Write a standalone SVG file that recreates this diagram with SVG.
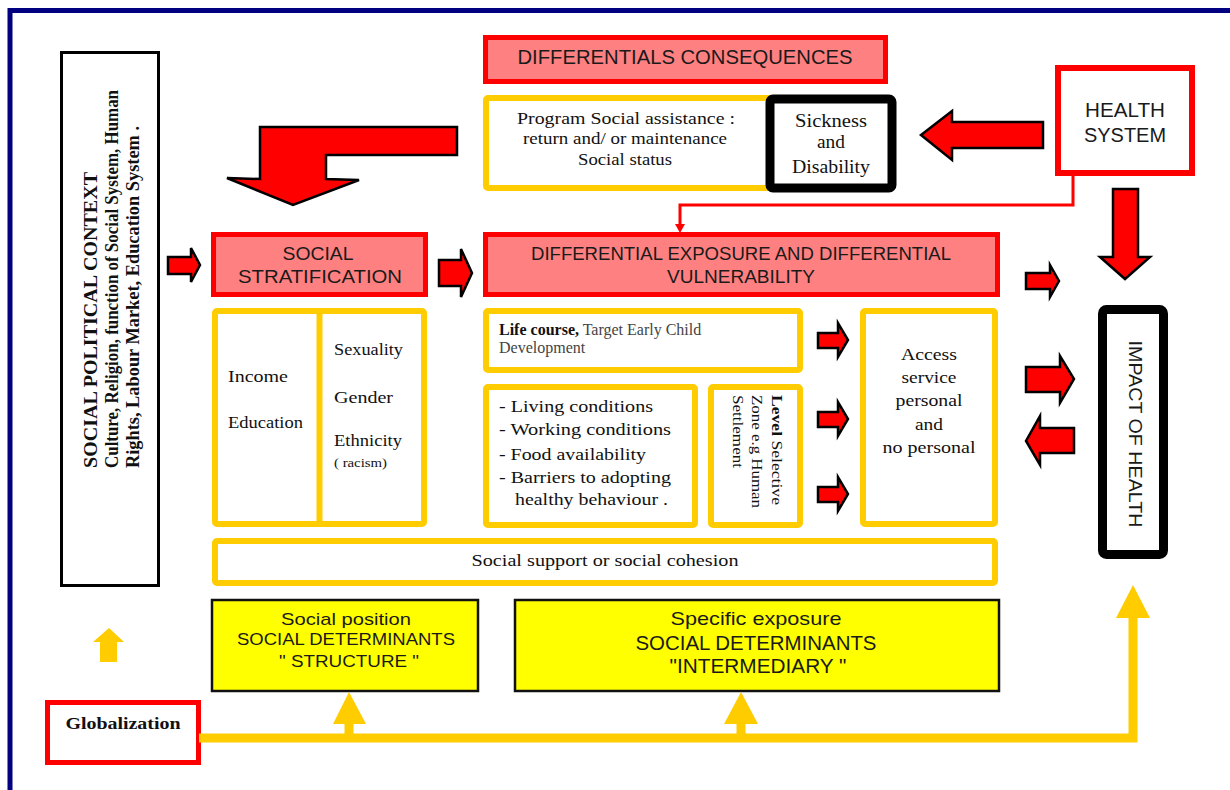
<svg xmlns="http://www.w3.org/2000/svg" width="1230" height="790" viewBox="0 0 1230 790">
<defs>
<style>
.sans{font-family:"Liberation Sans",Arial,sans-serif;fill:#1a1a1a}
.serif{font-family:"Liberation Serif","Times New Roman",serif;fill:#111}
.pink{fill:#ff8080;stroke:#ff0000;stroke-width:5}
.ybox{fill:#fff;stroke:#ffcc00;stroke-width:6}
.yfill{fill:#ffff00;stroke:#111;stroke-width:2.5}
.redarrow{fill:#ff0000;stroke:#000;stroke-width:2.5;stroke-linejoin:miter}
.yline{fill:none;stroke:#ffcc00;stroke-width:9}
.yhead{fill:#ffcc00}
</style>
</defs>
<rect x="0" y="0" width="1230" height="790" fill="#fff"/>
<rect x="10" y="10.5" width="1300" height="900" fill="none" stroke="#000080" stroke-width="5"/>

<g id="context">
<rect x="61.5" y="52.5" width="97" height="533" fill="#fff" stroke="#000" stroke-width="3"/>
<g class="serif" font-weight="bold" font-size="19" lengthAdjust="spacingAndGlyphs">
<text transform="translate(97,468) rotate(-90)" textLength="296" lengthAdjust="spacingAndGlyphs">SOCIAL POLITICAL CONTEXT</text>
<text transform="translate(118,468) rotate(-90)" textLength="378" lengthAdjust="spacingAndGlyphs">Culture, Religion, function of Social System, Human</text>
<text transform="translate(139,468) rotate(-90)" textLength="342" lengthAdjust="spacingAndGlyphs">Rights, Labour Market, Education System .</text>
</g>
</g>

<g id="diff-consequences">
<rect x="485.5" y="37.5" width="400" height="44" class="pink"/>
<text x="685" y="64" class="sans" font-size="20" text-anchor="middle" textLength="335" lengthAdjust="spacingAndGlyphs">DIFFERENTIALS CONSEQUENCES</text>
</g>

<g id="program">
<rect x="486" y="98" width="284" height="90" rx="2" class="ybox"/>
<g class="serif" font-size="17" text-anchor="middle">
<text x="626" y="124" textLength="218" lengthAdjust="spacingAndGlyphs">Program Social assistance  :</text>
<text x="625" y="144" textLength="204" lengthAdjust="spacingAndGlyphs">return and/ or  maintenance</text>
<text x="625" y="165" textLength="94" lengthAdjust="spacingAndGlyphs">Social status</text>
</g>
</g>

<g id="sickness">
<rect x="770" y="99" width="122" height="89" rx="3" fill="#fff" stroke="#000" stroke-width="9"/>
<g class="serif" font-size="18" text-anchor="middle">
<text x="831" y="127" textLength="72" lengthAdjust="spacingAndGlyphs">Sickness</text>
<text x="831" y="148" textLength="28" lengthAdjust="spacingAndGlyphs">and</text>
<text x="831" y="173" textLength="78" lengthAdjust="spacingAndGlyphs">Disability</text>
</g>
</g>

<g id="health-system">
<rect x="1058" y="68" width="134" height="105" fill="#fff" stroke="#ff0000" stroke-width="6"/>
<g class="sans" font-size="20" text-anchor="middle">
<text x="1125" y="117" textLength="80" lengthAdjust="spacingAndGlyphs">HEALTH</text>
<text x="1125" y="142" textLength="82" lengthAdjust="spacingAndGlyphs">SYSTEM</text>
</g>
</g>

<g id="social-stratification">
<rect x="213.5" y="234.5" width="212" height="60" class="pink"/>
<g class="sans" font-size="18" text-anchor="middle">
<text x="318" y="260" textLength="71" lengthAdjust="spacingAndGlyphs">SOCIAL</text>
<text x="320" y="283" textLength="164" lengthAdjust="spacingAndGlyphs">STRATIFICATION</text>
</g>
</g>

<g id="differential-exposure">
<rect x="485.5" y="234.5" width="512" height="60" class="pink"/>
<g class="sans" font-size="18" text-anchor="middle">
<text x="741" y="260" textLength="420" lengthAdjust="spacingAndGlyphs">DIFFERENTIAL EXPOSURE AND DIFFERENTIAL</text>
<text x="741" y="283" textLength="148" lengthAdjust="spacingAndGlyphs">VULNERABILITY</text>
</g>
</g>

<g id="income-gender">
<rect x="215" y="311" width="209" height="213" rx="2" class="ybox"/>
<line x1="319.5" y1="311" x2="319.5" y2="524" stroke="#ffcc00" stroke-width="6"/>
<g class="serif" font-size="17">
<text x="228" y="382" textLength="60" lengthAdjust="spacingAndGlyphs">Income</text>
<text x="228" y="428" textLength="75" lengthAdjust="spacingAndGlyphs">Education</text>
<text x="334" y="355" textLength="69" lengthAdjust="spacingAndGlyphs">Sexuality</text>
<text x="334" y="403" textLength="59" lengthAdjust="spacingAndGlyphs">Gender</text>
<text x="334" y="446" textLength="68" lengthAdjust="spacingAndGlyphs">Ethnicity</text>
<text x="334" y="467" font-size="12" textLength="53" lengthAdjust="spacingAndGlyphs">( racism)</text>
</g>
</g>

<g id="life-course">
<rect x="486" y="311" width="314" height="59" rx="2" class="ybox"/>
<text x="499" y="335" class="serif" font-size="16"><tspan font-weight="bold">Life course,</tspan><tspan fill="#444"> Target Early Child</tspan></text>
<text x="499" y="353" class="serif" font-size="16" fill="#444" style="fill:#444">Development</text>
</g>

<g id="living-conditions">
<rect x="486" y="387" width="209" height="138" rx="2" class="ybox"/>
<g class="serif" font-size="17">
<text x="499" y="412" textLength="154" lengthAdjust="spacingAndGlyphs">- Living conditions</text>
<text x="499" y="435" textLength="172" lengthAdjust="spacingAndGlyphs">- Working conditions</text>
<text x="499" y="460" textLength="147" lengthAdjust="spacingAndGlyphs">- Food availability</text>
<text x="499" y="483" textLength="172" lengthAdjust="spacingAndGlyphs">- Barriers to adopting</text>
<text x="515" y="505" textLength="153" lengthAdjust="spacingAndGlyphs">healthy behaviour .</text>
</g>
</g>

<g id="level-selective">
<rect x="711" y="387" width="89" height="138" rx="2" class="ybox"/>
<g class="serif" font-size="15">
<text transform="translate(772,395) rotate(90)" textLength="110" lengthAdjust="spacingAndGlyphs"><tspan font-weight="bold">Level</tspan>  Selective</text>
<text transform="translate(752,395) rotate(90)" textLength="113" lengthAdjust="spacingAndGlyphs">Zone e.g Human</text>
<text transform="translate(733,395) rotate(90)" textLength="73" lengthAdjust="spacingAndGlyphs">Settlement</text>
</g>
</g>

<g id="access">
<rect x="863" y="311" width="132" height="213" rx="2" class="ybox"/>
<g class="serif" font-size="17" text-anchor="middle">
<text x="929" y="360" textLength="56" lengthAdjust="spacingAndGlyphs">Access</text>
<text x="929" y="383" textLength="55" lengthAdjust="spacingAndGlyphs">service</text>
<text x="929" y="406" textLength="67" lengthAdjust="spacingAndGlyphs">personal</text>
<text x="929" y="430" textLength="28" lengthAdjust="spacingAndGlyphs">and</text>
<text x="929" y="453" textLength="93" lengthAdjust="spacingAndGlyphs">no personal</text>
</g>
</g>

<g id="impact">
<rect x="1102.5" y="309.5" width="61" height="245" rx="4" fill="#fff" stroke="#000" stroke-width="9"/>
<text transform="translate(1129,434) rotate(90)" class="sans" font-size="19" text-anchor="middle" textLength="187" lengthAdjust="spacingAndGlyphs">IMPACT OF  HEALTH</text>
</g>

<g id="social-support">
<rect x="215" y="541" width="780" height="42" rx="2" class="ybox"/>
<text x="605" y="566" class="serif" font-size="17" text-anchor="middle" textLength="267" lengthAdjust="spacingAndGlyphs">Social support or social cohesion</text>
</g>

<g id="structure">
<rect x="212" y="600" width="266" height="91" class="yfill"/>
<g class="sans" font-size="17" text-anchor="middle">
<text x="346" y="625" textLength="130" lengthAdjust="spacingAndGlyphs">Social position</text>
<text x="346" y="645" textLength="218" lengthAdjust="spacingAndGlyphs">SOCIAL DETERMINANTS</text>
<text x="349" y="667" textLength="140" lengthAdjust="spacingAndGlyphs">" STRUCTURE "</text>
</g>
</g>

<g id="intermediary">
<rect x="515" y="600" width="484" height="91" class="yfill"/>
<g class="sans" font-size="19" text-anchor="middle">
<text x="756" y="625" textLength="171" lengthAdjust="spacingAndGlyphs">Specific exposure</text>
<text x="756" y="650" font-size="20" textLength="241" lengthAdjust="spacingAndGlyphs">SOCIAL DETERMINANTS</text>
<text x="758" y="673" font-size="20" textLength="177" lengthAdjust="spacingAndGlyphs">"INTERMEDIARY "</text>
</g>
</g>

<g id="globalization">
<rect x="47.5" y="702.5" width="151" height="60" fill="#fff" stroke="#ff0000" stroke-width="5"/>
<text x="123" y="729" class="serif" font-size="17" font-weight="bold" text-anchor="middle" textLength="115" lengthAdjust="spacingAndGlyphs">Globalization</text>
</g>

<g id="connectors">
<polygon class="redarrow" points="260,127 457,127 457,155 326,155 326,179 359,180 293,205 227,178 260,179"/>
<polygon class="redarrow" points="168,257 191,257 191,248 200,265 191,282 191,274 168,274"/>
<polygon class="redarrow" points="439,260 461,260 461,249 472,273 461,297 461,286 439,286"/>
<polygon class="redarrow" points="1026,273 1050,273 1050,265 1059,281 1050,297 1050,289 1026,289"/>
<polygon class="redarrow" points="818,333 838,333 838,323 848,340 838,357 838,348 818,348"/>
<polygon class="redarrow" points="818,412 838,412 838,402 848,419 838,436 838,427 818,427"/>
<polygon class="redarrow" points="818,487 838,487 838,477 848,494 838,511 838,502 818,502"/>
<polygon class="redarrow" points="1026,367 1060,367 1060,356 1074,379 1060,403 1060,392 1026,392"/>
<polygon class="redarrow" points="1074,428 1040,428 1040,416 1026,441 1040,465 1040,453 1074,453"/>
<polygon class="redarrow" points="1043,122 952,122 952,111 921,135 952,160 952,148 1043,148"/>
<polygon class="redarrow" points="1113,189 1138,189 1138,257 1150,257 1125,279 1100,257 1113,257"/>
<polyline points="1073,175 1073,205 680,205 680,226" fill="none" stroke="#ff0000" stroke-width="3"/>
<polygon points="675,224 685,224 680,233" fill="#ff0000"/>
<path class="yline" d="M199,738 H1133 V615"/>
<path class="yline" d="M349,738 V720 M741,738 V720"/>
<polygon class="yhead" points="1116,618 1150,618 1133,585"/>
<polygon class="yhead" points="333,724 366,724 349,692"/>
<polygon class="yhead" points="724,724 758,724 741,692"/>
<polygon class="yhead" points="100,662 117,662 117,642 124,642 109,628 93,642 100,642"/>
</g>
</svg>
